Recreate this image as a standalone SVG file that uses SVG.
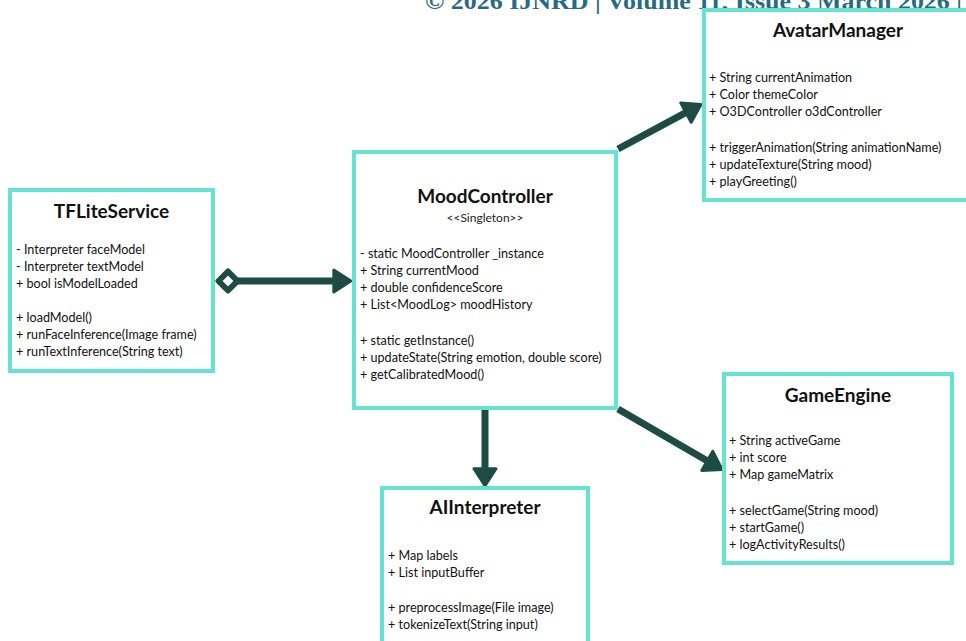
<svg xmlns="http://www.w3.org/2000/svg" width="966" height="641" viewBox="0 0 966 641">
  <style>
    .box { fill: #ffffff; stroke: #66e3d0; stroke-width: 4; }
    .title { font-family: Lato, "Liberation Sans", sans-serif; font-weight: bold; font-size: 19px; fill: #111111; text-anchor: middle; }
    .stereo { font-family: Lato, "Liberation Sans", sans-serif; font-size: 12px; fill: #222222; text-anchor: middle; }
    .member { font-family: Lato, "Liberation Sans", sans-serif; font-size: 12.6px; fill: #111111; }
    .link { fill: none; stroke: #1e4b44; stroke-width: 7; }
    .header { font-family: "Liberation Serif", serif; font-weight: bold; font-size: 23px; fill: #2a6a80; }
  </style>
  <defs>
    <marker id="arrow" viewBox="0 0 21 26" refX="10.2" refY="13" markerWidth="21" markerHeight="26" markerUnits="userSpaceOnUse" orient="auto">
      <path d="M2,2 L19,13 L2,24 Z" fill="#1e4b44" stroke="#1e4b44" stroke-width="3" stroke-linejoin="round"/>
    </marker>
    <marker id="diamond" viewBox="0 0 26 26" refX="13" refY="13" markerWidth="26" markerHeight="26" markerUnits="userSpaceOnUse" orient="auto">
      <path d="M3.5,13 L13,3.5 L22.5,13 L13,22.5 Z" fill="#ffffff" stroke="#1e4b44" stroke-width="6" stroke-linejoin="round"/>
    </marker>
  </defs>

  <rect width="966" height="641" fill="#ffffff"/>

  <!-- running header, clipped at the top edge -->
  <text class="header" x="425" y="9" textLength="537" lengthAdjust="spacingAndGlyphs">© 2026 IJNRD | Volume 11, Issue 3 March 2026 |</text>

  <!-- relationships -->
  <g id="connectors">
    <path class="link" d="M228,281 H342" marker-start="url(#diamond)" marker-end="url(#arrow)"/>
    <path class="link" d="M618,149 L693.2,108.7" marker-end="url(#arrow)"/>
    <path class="link" d="M618,409 L714.4,465" marker-end="url(#arrow)"/>
    <path class="link" d="M485,410 V477" marker-end="url(#arrow)"/>
  </g>

  <g id="TFLiteService">
    <rect class="box" x="10" y="190" width="203" height="181"/>
    <text class="title" x="111.5" y="218">TFLiteService</text>
    <text class="member" x="16" y="254">- Interpreter faceModel</text>
    <text class="member" x="16" y="271">- Interpreter textModel</text>
    <text class="member" x="16" y="288">+ bool isModelLoaded</text>
    <text class="member" x="16" y="322">+ loadModel()</text>
    <text class="member" x="16" y="339">+ runFaceInference(Image frame)</text>
    <text class="member" x="16" y="356">+ runTextInference(String text)</text>
  </g>

  <g id="MoodController">
    <rect class="box" x="354" y="152" width="262" height="256"/>
    <text class="title" x="485" y="203">MoodController</text>
    <text class="stereo" x="485" y="222">&lt;&lt;Singleton&gt;&gt;</text>
    <text class="member" x="360" y="258">- static MoodController _instance</text>
    <text class="member" x="360" y="275">+ String currentMood</text>
    <text class="member" x="360" y="292">+ double confidenceScore</text>
    <text class="member" x="360" y="309">+ List&lt;MoodLog&gt; moodHistory</text>
    <text class="member" x="360" y="345">+ static getInstance()</text>
    <text class="member" x="360" y="362">+ updateState(String emotion, double score)</text>
    <text class="member" x="360" y="379">+ getCalibratedMood()</text>
  </g>

  <g id="AvatarManager">
    <rect class="box" x="704" y="10" width="270" height="190"/>
    <text class="title" x="838" y="37">AvatarManager</text>
    <text class="member" x="709" y="82">+ String currentAnimation</text>
    <text class="member" x="709" y="99">+ Color themeColor</text>
    <text class="member" x="709" y="116">+ O3DController o3dController</text>
    <text class="member" x="709" y="152">+ triggerAnimation(String animationName)</text>
    <text class="member" x="709" y="169">+ updateTexture(String mood)</text>
    <text class="member" x="709" y="186">+ playGreeting()</text>
  </g>

  <g id="GameEngine">
    <rect class="box" x="724" y="374" width="228" height="189"/>
    <text class="title" x="838" y="402">GameEngine</text>
    <text class="member" x="729" y="445">+ String activeGame</text>
    <text class="member" x="729" y="462">+ int score</text>
    <text class="member" x="729" y="479">+ Map gameMatrix</text>
    <text class="member" x="729" y="515">+ selectGame(String mood)</text>
    <text class="member" x="729" y="532">+ startGame()</text>
    <text class="member" x="729" y="549">+ logActivityResults()</text>
  </g>

  <g id="AIInterpreter">
    <rect class="box" x="382" y="488" width="206" height="170"/>
    <text class="title" x="485" y="514">AIInterpreter</text>
    <text class="member" x="388" y="560">+ Map labels</text>
    <text class="member" x="388" y="577">+ List inputBuffer</text>
    <text class="member" x="388" y="612">+ preprocessImage(File image)</text>
    <text class="member" x="388" y="629">+ tokenizeText(String input)</text>
  </g>
</svg>
